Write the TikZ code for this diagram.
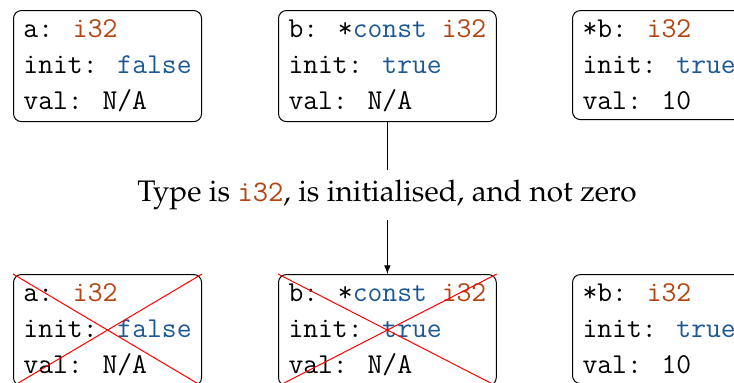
\documentclass[tikz,border=0pt]{standalone}
\usepackage[T1]{fontenc}
\usepackage{mathpazo}
\newcommand{\mono}{\fontencoding{TU}\fontfamily{lmtt}\selectfont}
\definecolor{tyorange}{RGB}{178,68,18}
\definecolor{kwblue}{RGB}{30,88,148}
\newcommand{\ty}[1]{\textcolor{tyorange}{#1}}
\newcommand{\kw}[1]{\textcolor{kwblue}{#1}}
\begin{document}
\begin{tikzpicture}[x=0.5pt,y=-0.5pt,
  varbox/.style={draw, line width=0.5pt, rounded corners=4pt, align=left,
    anchor=north west, inner xsep=5pt, inner ysep=4.7pt,
    font=\Large\mono},
  cross/.style={draw=red, line width=0.5pt},
  cond/.style={font=\fontsize{14.85}{18}\selectfont, inner sep=4.7pt},
  flow/.style={draw, line width=0.5pt, -latex}]
\useasboundingbox (0,0) rectangle (734,382);
\clip (0,0) rectangle (734,382);
% top row
\node[varbox] (a1) at (13,10) {a: \ty{i32}\\init: \kw{false}\\val: N/A};
\node[varbox] (b1) at (278,10) {b: *\kw{const} \ty{i32}\\init: \kw{true}\\val: N/A};
\node[varbox] (c1) at (572,10) {*b: \ty{i32}\\init: \kw{true}\\val: 10};
% condition
\node[cond] (cond) at (387,195) {Type is {\mono\ty{i32}}, is initialised, and not zero};
% bottom row
\node[varbox] (a2) at (13,274) {a: \ty{i32}\\init: \kw{false}\\val: N/A};
\node[varbox] (b2) at (278,274) {b: *\kw{const} \ty{i32}\\init: \kw{true}\\val: N/A};
\node[varbox] (c2) at (572,274) {*b: \ty{i32}\\init: \kw{true}\\val: 10};
% connectors
\draw[line width=0.5pt] (b1.south) -- (cond.north -| b1.south);
\draw[flow] (cond.south -| b1.south) -- (b2.north);
% crosses
\draw[cross] (a2.north west) -- (a2.south east);
\draw[cross] (a2.north east) -- (a2.south west);
\draw[cross] (b2.north west) -- (b2.south east);
\draw[cross] (b2.north east) -- (b2.south west);
\end{tikzpicture}
\end{document}
